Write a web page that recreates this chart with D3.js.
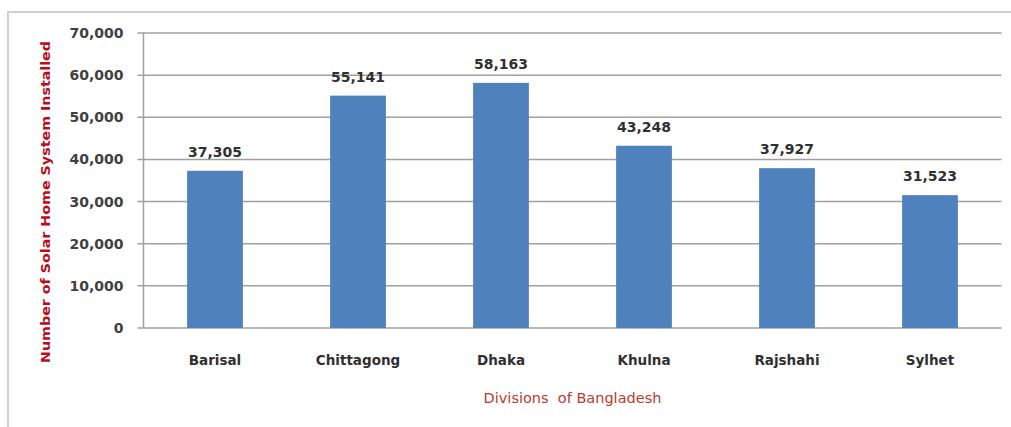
<!DOCTYPE html>
<html><head><meta charset="utf-8">
<script src="https://cdn.jsdelivr.net/npm/d3@7"></script>
<style>body{margin:0;background:#fff;} svg{display:block;}</style>
</head><body>
<svg id="chart" width="1011" height="427"></svg>
<script>
const categories = ["Barisal", "Chittagong", "Dhaka", "Khulna", "Rajshahi", "Sylhet"];
const values = [37305, 55141, 58163, 43248, 37927, 31523];
const yTicks = [0, 10000, 20000, 30000, 40000, 50000, 60000, 70000];
const xTitle = "Divisions\u00a0 of Bangladesh";
const yTitle = "Number of Solar Home System Installed";

(function () {
const svg = d3.select("#chart");
const font = "'DejaVu Sans', sans-serif";
const pLeft = 143.5, pRight = 1001.5, pTop = 33, pBottom = 328;

svg.append("rect").attr("x", 8).attr("y", 12).attr("width", 1100).attr("height", 600)
  .attr("fill", "none").attr("stroke", "#d0d0d0").attr("stroke-width", 2);

const x = d3.scaleBand().domain(categories).range([pLeft, pRight]).paddingInner(0.61).paddingOuter(0.305);
const y = d3.scaleLinear().domain([0, 70000]).range([pBottom, pTop]);
const fmt = d3.format(",");

svg.append("g").selectAll("line").data(yTicks).join("line")
  .attr("x1", pLeft - 6).attr("x2", pRight).attr("y1", d => y(d)).attr("y2", d => y(d))
  .attr("stroke", "#a0a0a0").attr("stroke-width", 1.5);

svg.append("line").attr("x1", pLeft).attr("x2", pLeft).attr("y1", pTop).attr("y2", pBottom)
  .attr("stroke", "#a0a0a0").attr("stroke-width", 1.5);

svg.append("g").selectAll("text").data(yTicks).join("text")
  .attr("x", pLeft - 20).attr("y", d => y(d)).attr("dy", "0.36em")
  .attr("text-anchor", "end").attr("font-family", font).attr("font-weight", "bold")
  .attr("font-size", 14).attr("fill", "#404040").text(d => fmt(d));

svg.append("g").selectAll("rect").data(values).join("rect")
  .attr("x", (d, i) => x(categories[i])).attr("width", x.bandwidth())
  .attr("y", d => y(d)).attr("height", d => y(0) - y(d)).attr("fill", "#4f81bd");

svg.append("g").selectAll("text").data(values).join("text")
  .attr("x", (d, i) => x(categories[i]) + x.bandwidth() / 2).attr("y", d => y(d) - 14)
  .attr("text-anchor", "middle").attr("font-family", font).attr("font-weight", "bold")
  .attr("font-size", 14).attr("fill", "#303030").text(d => fmt(d));

svg.append("g").selectAll("text").data(categories).join("text")
  .attr("x", d => x(d) + x.bandwidth() / 2).attr("y", 365)
  .attr("text-anchor", "middle").attr("font-family", font).attr("font-weight", "bold")
  .attr("font-size", 13.5).attr("fill", "#303030").text(d => d);

svg.append("text").attr("x", (pLeft + pRight) / 2).attr("y", 403)
  .attr("text-anchor", "middle").attr("font-family", font).attr("font-size", 14.5)
  .attr("fill", "#c0392b").text(xTitle);

svg.append("text").attr("transform", "translate(50,202) rotate(-90)")
  .attr("text-anchor", "middle").attr("font-family", font).attr("font-weight", "bold")
  .attr("font-size", 13).attr("textLength", 322).attr("lengthAdjust", "spacingAndGlyphs")
  .attr("fill", "#b80d1a").text(yTitle);
})();
</script>
</body></html>
